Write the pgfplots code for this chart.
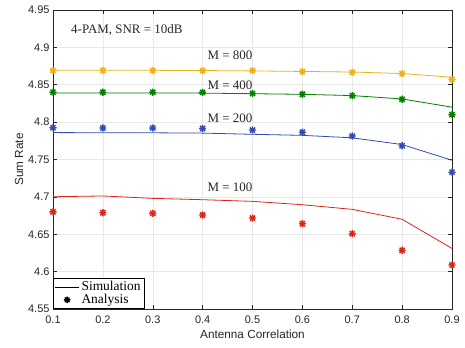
\documentclass[border=0pt]{standalone}
\usepackage{fontspec}
\setmainfont{Liberation Serif}
\newfontfamily\helv{Liberation Sans}
\usepackage{pgfplots}
\pgfplotsset{compat=1.18}
\definecolor{myyel}{rgb}{0.929,0.694,0.125}
\definecolor{mygrn}{rgb}{0,0.5,0}
\definecolor{myblu}{rgb}{0.2,0.3,0.7}
\definecolor{myred}{rgb}{0.85,0.15,0.1}
\definecolor{axgray}{rgb}{0.15,0.15,0.15}
\pgfdeclareplotmark{mstar}{%
  \pgfpathmoveto{\pgfqpoint{-\pgfplotmarksize}{0pt}}\pgfpathlineto{\pgfqpoint{\pgfplotmarksize}{0pt}}%
  \pgfpathmoveto{\pgfqpoint{0pt}{-\pgfplotmarksize}}\pgfpathlineto{\pgfqpoint{0pt}{\pgfplotmarksize}}%
  \pgfpathmoveto{\pgfqpoint{-0.72\pgfplotmarksize}{-0.72\pgfplotmarksize}}\pgfpathlineto{\pgfqpoint{0.72\pgfplotmarksize}{0.72\pgfplotmarksize}}%
  \pgfpathmoveto{\pgfqpoint{-0.72\pgfplotmarksize}{0.72\pgfplotmarksize}}\pgfpathlineto{\pgfqpoint{0.72\pgfplotmarksize}{-0.72\pgfplotmarksize}}%
  \pgfusepathqstroke}
\begin{document}
\begin{tikzpicture}
\begin{axis}[
  scale only axis, width=399bp, height=299bp,
  xmin=0.1, xmax=0.9, ymin=4.55, ymax=4.95,
  xtick={0.1,0.2,...,0.9}, ytick={4.55,4.6,...,4.95},
  xticklabels={0.1,0.2,0.3,0.4,0.5,0.6,0.7,0.8,0.9},
  yticklabels={4.55,4.6,4.65,4.7,4.75,4.8,4.85,4.9,4.95},
  tick align=inside, tick pos=both,
  major tick length=4bp,
  grid=major, grid style={gray!18, line width=0.5pt},
  axis line style={axgray, line width=0.5pt},
  tick style={axgray, line width=0.5pt},
  ticklabel style={font=\helv\fontsize{11}{12}\selectfont, text=axgray},
  xticklabel style={yshift=-3bp},
  xlabel={Antenna Correlation}, ylabel={Sum Rate},
  label style={font=\helv\fontsize{11.8}{13}\selectfont, text=axgray},
  xlabel style={yshift=0bp}, ylabel style={yshift=-2bp},
  legend style={at={(0,0)}, anchor=south west, draw=black, line width=0.5pt,
    font=\fontsize{13.5}{14}\selectfont, inner sep=1.5pt, row sep=-2pt, cells={anchor=west}},
  legend cell align=left,
  legend image code/.code={\draw[mark repeat=2,mark phase=2,#1] plot coordinates {(0bp,0bp)(12bp,0bp)(24bp,0bp)};},
  every axis plot/.append style={line width=0.8pt},
  mark options={solid, line width=1.4pt},
  mark size=3.6bp,
]
\addlegendimage{black, no markers, line width=0.8pt}
\addlegendentry{Simulation}
\addlegendimage{black, only marks, mark=mstar, mark size=3.2bp}
\addlegendentry{Analysis}
% M=800
\addplot[myyel, no markers, forget plot] coordinates {(0.1,4.8695)(0.2,4.8695)(0.3,4.8693)(0.4,4.8690)(0.5,4.8685)(0.6,4.8678)(0.7,4.8670)(0.8,4.8650)(0.9,4.8600)};
\addplot[myyel, only marks, mark=mstar, forget plot] coordinates {(0.1,4.8690)(0.2,4.8690)(0.3,4.8690)(0.4,4.8688)(0.5,4.8690)(0.6,4.8675)(0.7,4.8667)(0.8,4.8648)(0.9,4.8572)};
% M=400
\addplot[mygrn, no markers, forget plot] coordinates {(0.1,4.8390)(0.2,4.8390)(0.3,4.8390)(0.4,4.8388)(0.5,4.8380)(0.6,4.8372)(0.7,4.8355)(0.8,4.8310)(0.9,4.8200)};
\addplot[mygrn, only marks, mark=mstar, forget plot] coordinates {(0.1,4.8400)(0.2,4.8400)(0.3,4.8400)(0.4,4.8398)(0.5,4.8383)(0.6,4.8373)(0.7,4.8353)(0.8,4.8305)(0.9,4.8100)};
% M=200
\addplot[myblu, no markers, forget plot] coordinates {(0.1,4.7860)(0.2,4.7858)(0.3,4.7857)(0.4,4.7853)(0.5,4.7837)(0.6,4.7823)(0.7,4.7790)(0.8,4.7700)(0.9,4.7490)};
\addplot[myblu, only marks, mark=mstar, forget plot] coordinates {(0.1,4.7925)(0.2,4.7922)(0.3,4.7922)(0.4,4.7915)(0.5,4.7894)(0.6,4.7864)(0.7,4.7814)(0.8,4.7684)(0.9,4.7330)};
% M=100
\addplot[myred, no markers, forget plot] coordinates {(0.1,4.7002)(0.2,4.7012)(0.3,4.6980)(0.4,4.6962)(0.5,4.6940)(0.6,4.6895)(0.7,4.6833)(0.8,4.6700)(0.9,4.6310)};
\addplot[myred, only marks, mark=mstar, forget plot] coordinates {(0.1,4.6800)(0.2,4.6788)(0.3,4.6780)(0.4,4.6757)(0.5,4.6717)(0.6,4.6640)(0.7,4.6507)(0.8,4.6285)(0.9,4.6088)};
\node[font=\fontsize{13}{15}\selectfont, text=axgray] at (axis cs:0.248,4.923) {4-PAM, SNR = 10dB};
\node[font=\fontsize{13}{15}\selectfont, text=axgray] at (axis cs:0.455,4.890) {M = 800};
\node[font=\fontsize{13}{15}\selectfont, text=axgray] at (axis cs:0.455,4.8497) {M = 400};
\node[font=\fontsize{13}{15}\selectfont, text=axgray] at (axis cs:0.455,4.8055) {M = 200};
\node[font=\fontsize{13}{15}\selectfont, text=axgray] at (axis cs:0.455,4.713) {M = 100};
\end{axis}
\pgfresetboundingbox
\path (current axis.south west) ++(-53bp,-39bp) rectangle ([shift={(13bp,10bp)}]current axis.north east);
\end{tikzpicture}
\end{document}
